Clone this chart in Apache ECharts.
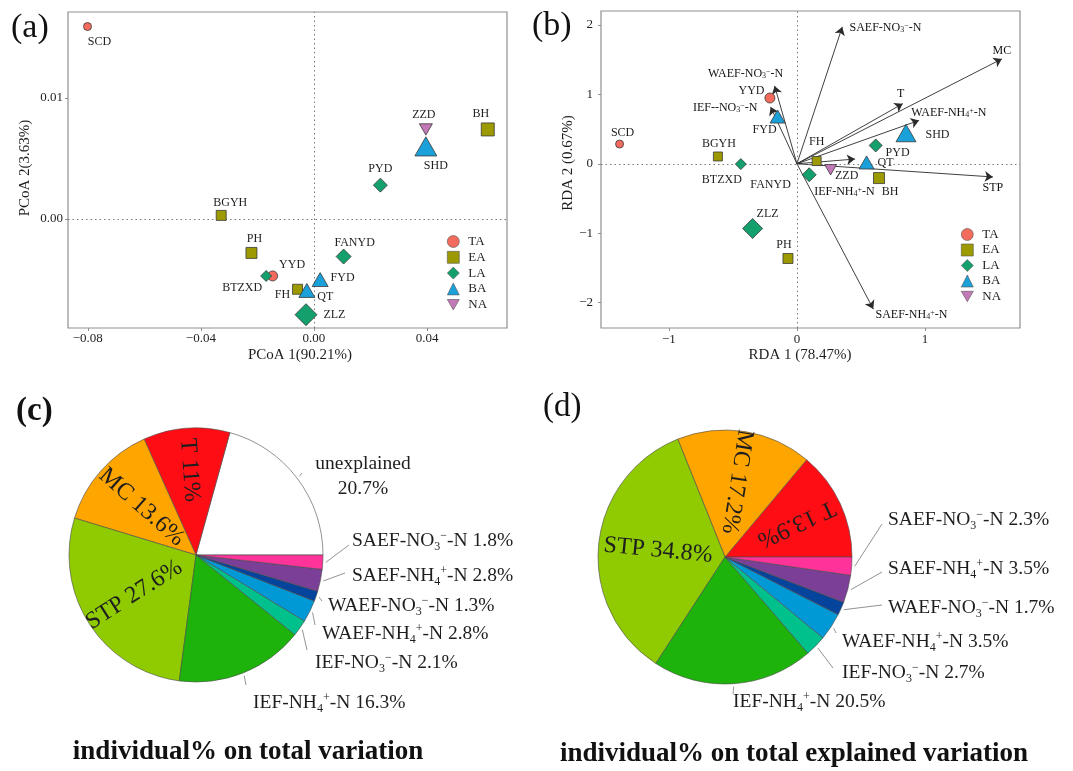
<!DOCTYPE html>
<html><head><meta charset="utf-8">
<script src="https://cdn.jsdelivr.net/npm/echarts@6/dist/echarts.min.js"></script>
<style>html,body{margin:0;padding:0;background:#fff}#c{width:1073px;height:771px}</style>
</head><body><div id="c"></div>
<script>
// ================= DATA =================
const groups = ['TA', 'EA', 'LA', 'BA', 'NA'];
const siteNames = ['SCD', 'YYD', 'BH', 'BGYH', 'PH', 'FH', 'PYD', 'FANYD', 'BTZXD', 'ZLZ', 'SHD', 'FYD', 'QT', 'ZZD'];
const siteGroup = ['TA', 'TA', 'EA', 'EA', 'EA', 'EA', 'LA', 'LA', 'LA', 'LA', 'BA', 'BA', 'BA', 'NA'];
// panel (a) PCoA scores
const pcoa1 = [-0.0801, -0.0146, 0.0615, -0.0328, -0.0221, -0.0058, 0.0235, 0.0105, -0.0169, -0.0028, 0.0396, 0.0022, -0.0025, 0.0396];
const pcoa2 = [0.0159, -0.0047, 0.0074, 0.0003, -0.0028, -0.0058, 0.0028, -0.0031, -0.0047, -0.0079, 0.0060, -0.0050, -0.0059, 0.0074];
// panel (b) RDA site scores
const rda1 = [-1.385, -0.211, 0.641, -0.617, -0.070, 0.154, 0.615, 0.096, -0.438, -0.346, 0.852, -0.151, 0.544, 0.263];
const rda2 = [0.284, 0.947, -0.206, 0.105, -1.364, 0.039, 0.264, -0.158, -0.005, -0.932, 0.442, 0.680, 0.019, -0.086];
// panel (b) environmental arrows
const envNames = ['SAEF-NO3-N', 'MC', 'WAEF-NO3-N', 'IEF--NO3-N', 'T', 'WAEF-NH4-N', 'IEF-NH4-N', 'STP', 'SAEF-NH4-N'];
const envX = [0.354, 1.60, -0.174, -0.205, 0.826, 0.953, 0.453, 1.53, 0.596];
const envY = [1.97, 1.51, 1.12, 0.817, 0.865, 0.624, 0.068, -0.19, -2.09];
// tick values
const pcoaXTicks = [-0.08, -0.04, 0, 0.04];
const pcoaYTicks = [0, 0.01];
const rdaXTicks = [-1, 0, 1];
const rdaYTicks = [-2, -1, 0, 1, 2];
// panel (c) individual % on total variation
const pieCNames = ['unexplained', 'T', 'MC', 'STP', 'IEF-NH4-N', 'IEF-NO3-N', 'WAEF-NH4-N', 'WAEF-NO3-N', 'SAEF-NH4-N', 'SAEF-NO3-N'];
const pieCValues = [20.7, 11, 13.6, 27.6, 16.3, 2.1, 2.8, 1.3, 2.8, 1.8];
// panel (d) individual % on total explained variation
const pieDNames = ['T', 'MC', 'STP', 'IEF-NH4-N', 'IEF-NO3-N', 'WAEF-NH4-N', 'WAEF-NO3-N', 'SAEF-NH4-N', 'SAEF-NO3-N'];
const pieDValues = [13.9, 17.2, 34.8, 20.5, 2.7, 3.5, 1.7, 3.5, 2.3];

// ================= STYLE / LAYOUT =================
const FONT = "'Liberation Serif','Times New Roman','DejaVu Serif',serif";
const TXT = '#1e1e1e';
const SYMBOL = { TA: 'circle', EA: 'rect', LA: 'diamond', BA: 'triangle', NA: 'path://M0,0L10,0L5,8.66Z' };
const COLOR = { TA: '#F36B5D', EA: '#9C9A00', LA: '#14A06C', BA: '#1AA1DA', NA: '#C378B7' };
const SIZE_A = { SCD: 8, YYD: 10, BH: 13, BGYH: 10, PH: 11, FH: 10, PYD: 14, FANYD: 15, BTZXD: 11, ZLZ: 22, SHD: 22, FYD: 16, QT: 16, ZZD: 13 };
const SIZE_B = { SCD: 8, YYD: 10, BH: 11, BGYH: 9, PH: 10, FH: 9, PYD: 13, FANYD: 14, BTZXD: 11, ZLZ: 20, SHD: 20, FYD: 15, QT: 15, ZZD: 12 };
const LABEL_A = {
  SCD: ['bottom', [12, 0]], BH: ['top', [-7, 2]], ZZD: ['top', [-2, 2]], SHD: ['bottom', [10, -1]],
  PYD: ['top', [0, 2]], BGYH: ['top', [9, 4]], PH: ['top', [3, 3]], FANYD: ['top', [11, 5]],
  YYD: ['right', [-4, -11]], BTZXD: ['bottom', [-24, -5]], FYD: ['right', [-3, -2]], FH: ['left', [3, 6]],
  QT: ['right', [-3, 6]], ZLZ: ['right', [1, 0]]
};
const LABEL_B = {
  SCD: ['top', [3, 4]], YYD: ['left', [5, -7]], FYD: ['bottom', [-13, -5]], BGYH: ['top', [1, 3]],
  BTZXD: ['bottom', [-19, -1]], FH: ['top', [0, -3]], ZZD: ['right', [-7, 6]], FANYD: ['left', [-6, 10]],
  QT: ['right', [-2, 0]], PYD: ['right', [-2, 7]], SHD: ['right', [4, 2]], BH: ['bottom', [11, -3]],
  ZLZ: ['top', [15, 7]], PH: ['top', [-4, 3]]
};
const ENV_LABEL = {
  'SAEF-NO3-N': ['right', [2, 1]], 'MC': ['top', [0, 3]], 'WAEF-NO3-N': ['top', [-29, -1]],
  'IEF--NO3-N': ['left', [-8, 1]], 'T': ['top', [-2, 1]], 'WAEF-NH4-N': ['right', [-13, -8]],
  'IEF-NH4-N': ['right', [-46, 33]], 'STP': ['bottom', [0, 0]], 'SAEF-NH4-N': ['right', [-3, 6]]
};
const PIE_COLOR = {
  'unexplained': '#FFFFFF', 'T': '#FF0D15', 'MC': '#FFA500', 'STP': '#8FCB00', 'IEF-NH4-N': '#1DB30A',
  'IEF-NO3-N': '#00C08C', 'WAEF-NH4-N': '#0099D6', 'WAEF-NO3-N': '#04449C', 'SAEF-NH4-N': '#7C3F98', 'SAEF-NO3-N': '#FF3399'
};
const PIE_C = { cx: 196, cy: 555, r: 127, labels: {
  'unexplained': { x: 363, y: 476, align: 'center', lx: 302, ly: 473 },
  'T': { inside: true, f: 0.67 }, 'MC': { inside: true, f: 0.57 }, 'STP': { inside: true, f: 0.58 },
  'IEF-NH4-N': { x: 253, y: 703, lx: 246, ly: 685 },
  'IEF-NO3-N': { x: 315, y: 663, lx: 307, ly: 650 },
  'WAEF-NH4-N': { x: 322, y: 634, lx: 315, ly: 625 },
  'WAEF-NO3-N': { x: 328, y: 606, lx: 322, ly: 601 },
  'SAEF-NH4-N': { x: 352, y: 576, lx: 345, ly: 573 },
  'SAEF-NO3-N': { x: 352, y: 541, lx: 349, ly: 545 }
} };
const PIE_D = { cx: 725, cy: 557, r: 127, labels: {
  'T': { inside: true, f: 0.62 }, 'MC': { inside: true, f: 0.6 }, 'STP': { inside: true, f: 0.53 },
  'IEF-NH4-N': { x: 733, y: 702, lx: 733, ly: 694 },
  'IEF-NO3-N': { x: 842, y: 673, lx: 833, ly: 668 },
  'WAEF-NH4-N': { x: 842, y: 642, lx: 836, ly: 633 },
  'WAEF-NO3-N': { x: 888, y: 608, lx: 882, ly: 605 },
  'SAEF-NH4-N': { x: 888, y: 569, lx: 882, ly: 572 },
  'SAEF-NO3-N': { x: 888, y: 520, lx: 882, ly: 524 }
} };

function chem(s) { return s.replace('NO3', 'NO{s|3}{p|\u2212}').replace('NH4', 'NH{s|4}{p|+}'); }
function richFor(fs) {
  const small = Math.round(fs * 0.62);
  return {
    s: { fontSize: small, fontFamily: FONT, color: TXT, verticalAlign: 'bottom', lineHeight: Math.round(small * 0.75) },
    p: { fontSize: small, fontFamily: FONT, color: TXT, verticalAlign: 'top', lineHeight: Math.round(small * 0.9) }
  };
}
function fmtA(v) { return (v < 0 ? '\u2212' : '') + Math.abs(v).toFixed(2); }
function fmtB(v) { return (v < 0 ? '\u2212' : '') + Math.abs(v); }

function valueAxis(grid, min, max, ticks, fmt, name, nameGap, namePad, margin) {
  return {
    gridIndex: grid, type: 'value', min: min, max: max,
    splitLine: { show: false }, axisLine: { show: false, onZero: false },
    axisTick: { show: true, inside: false, length: 3, lineStyle: { color: '#8f8f8f', width: 1 }, customValues: ticks },
    axisLabel: { customValues: ticks, formatter: fmt, fontSize: 13, color: TXT, margin: margin, fontFamily: FONT },
    name: name, nameLocation: 'middle', nameGap: nameGap,
    nameTextStyle: { fontSize: 15, color: TXT, fontFamily: FONT, padding: namePad }
  };
}

function siteSeries(panel) {
  const xs = panel === 0 ? pcoa1 : rda1, ys = panel === 0 ? pcoa2 : rda2;
  const SZ = panel === 0 ? SIZE_A : SIZE_B, LB = panel === 0 ? LABEL_A : LABEL_B;
  return groups.map((g, gi) => {
    const s = {
      type: 'scatter', name: g, xAxisIndex: panel, yAxisIndex: panel, z: 5,
      symbol: SYMBOL[g],
      itemStyle: { color: COLOR[g], borderColor: '#3a3a3a', borderWidth: 0.8, opacity: 1 },
      label: { show: true, formatter: '{b}', fontSize: 12, color: TXT, fontFamily: FONT },
      emphasis: { disabled: true },
      data: siteNames.map((n, i) => i).filter(i => siteGroup[i] === g).map(i => {
        const n = siteNames[i], sz = SZ[n];
        const tri = (g === 'BA' || g === 'NA');
        return { name: n, value: [xs[i], ys[i]], symbolSize: tri ? [sz, sz * 0.87] : sz,
                 label: { position: LB[n][0], offset: LB[n][1] } };
      })
    };
    if (gi === 0) {
      s.markLine = { silent: true, symbol: 'none', animation: false, label: { show: false },
        lineStyle: { color: '#7a7a7a', type: [1.5, 3], width: 1 },
        emphasis: { disabled: true },
        data: [{ xAxis: 0 }, { yAxis: 0 }] };
    }
    return s;
  });
}

function pieSeries(names, values, cfg) {
  const total = values.reduce((a, b) => a + b, 0);
  let cum = 0;
  const mids = values.map(v => { const m = (cum + v / 2) / total * 360; cum += v; return m; });
  return {
    type: 'pie', center: [cfg.cx, cfg.cy], radius: cfg.r, startAngle: 0, clockwise: false,
    avoidLabelOverlap: false, silent: true, animation: false,
    itemStyle: { borderColor: '#4a4a4a', borderWidth: 0.6 },
    label: { show: true, position: 'outside', fontSize: 19.5, lineHeight: 23, fontFamily: FONT, color: TXT, rich: richFor(19.5) },
    labelLine: { show: true, lineStyle: { color: '#777', width: 0.8 } },
    emphasis: { disabled: true },
    data: names.map((n, i) => {
      const L = cfg.labels[n];
      const item = { name: n, value: values[i], itemStyle: { color: PIE_COLOR[n] } };
      if (L.inside) {
        item.label = { position: 'inside', rotate: mids[i] - 180, fontSize: 24, lineHeight: 27,
                       formatter: n + ' ' + values[i] + '%' };
        item.labelLine = { show: false };
      } else if (n === 'unexplained') {
        item.label = { formatter: 'unexplained\n' + values[i] + '%', lineHeight: 25, align: 'center' };
      } else {
        item.label = { formatter: chem(n) + ' ' + values[i] + '%' };
      }
      return item;
    }),
    labelLayout: function (p) {
      const i = p.dataIndex, L = cfg.labels[names[i]];
      const a = mids[i] * Math.PI / 180;
      if (L.inside) {
        return { x: cfg.cx + L.f * cfg.r * Math.cos(a), y: cfg.cy - L.f * cfg.r * Math.sin(a),
                 align: 'center', verticalAlign: 'middle' };
      }
      const sx = cfg.cx + (cfg.r + 3) * Math.cos(a), sy = cfg.cy - (cfg.r + 3) * Math.sin(a);
      return { x: L.x, y: L.y, align: L.align || 'left', verticalAlign: 'middle',
               labelLinePoints: [[sx, sy], [(sx + L.lx) / 2, (sy + L.ly) / 2], [L.lx, L.ly]] };
    }
  };
}

function gText(text, x, y, size, weight, align) {
  return { type: 'text', x: x, y: y, silent: true,
    style: { text: text, font: (weight || 'normal') + ' ' + size + 'px ' + FONT, fill: '#111',
             align: align || 'left', textAlign: align || 'left', verticalAlign: 'top', textVerticalAlign: 'top' } };
}

const legendBase = {
  data: groups, orient: 'vertical', padding: 0, itemWidth: 12, itemHeight: 12, itemGap: 2.8,
  selectedMode: false, itemStyle: { borderColor: '#555', borderWidth: 0.6 },
  textStyle: { fontSize: 13, color: TXT, fontFamily: FONT, padding: [0, 0, 0, 4] }
};

const option = {
  animation: false,
  backgroundColor: '#fff',
  textStyle: { fontFamily: FONT },
  grid: [
    { left: 68, top: 12, width: 439, height: 316, show: true, borderColor: '#8f8f8f', borderWidth: 1.2, backgroundColor: 'transparent' },
    { left: 601, top: 11, width: 419, height: 317, show: true, borderColor: '#8f8f8f', borderWidth: 1.2, backgroundColor: 'transparent' }
  ],
  xAxis: [
    valueAxis(0, -0.087, 0.0683, pcoaXTicks, fmtA, 'PCoA 1(90.21%)', 20, [0, 0, 0, 25], 4),
    valueAxis(1, -1.53, 1.742, rdaXTicks, fmtB, 'RDA 1 (78.47%)', 20, [0, 21, 0, 0], 5)
  ],
  yAxis: [
    valueAxis(0, -0.009, 0.0171, pcoaYTicks, fmtA, 'PCoA 2(3.63%)', 35, [0, 0, 0, 4], 5),
    valueAxis(1, -2.365, 2.2, rdaYTicks, fmtB, 'RDA 2 (0.67%)', 19, [0, 0, 0, 13], 8)
  ],
  legend: [
    Object.assign({}, legendBase, { left: 447, top: 235 }),
    Object.assign({}, legendBase, { left: 961, top: 228, itemGap: 2.5 })
  ],
  graphic: [
    gText('(a)', 11, 11, 34),
    gText('(b)', 532, 9, 34),
    gText('(c)', 16, 395, 33, 'bold'),
    gText('(d)', 543, 391, 33),
    gText('individual% on total variation', 248, 739, 27, 'bold', 'center'),
    gText('individual% on total explained variation', 794, 741, 27, 'bold', 'center')
  ],
  series: [
    {
      type: 'lines', coordinateSystem: 'cartesian2d', xAxisIndex: 1, yAxisIndex: 1, z: 2, silent: true,
      symbol: ['none', 'arrow'], symbolSize: 8,
      lineStyle: { color: '#2a2a2a', width: 0.9, opacity: 1 },
      data: envX.map((x, i) => ({ coords: [[0, 0], [x, envY[i]]] }))
    },
    {
      type: 'scatter', name: 'env', xAxisIndex: 1, yAxisIndex: 1, z: 3, silent: true,
      symbol: 'circle', symbolSize: 0.5, itemStyle: { color: '#2a2a2a', opacity: 1 },
      label: { show: true, fontSize: 12, color: '#111', fontFamily: FONT, rich: richFor(12.5),
               formatter: p => chem(p.name) },
      emphasis: { disabled: true },
      data: envNames.map((n, i) => ({ name: n, value: [envX[i], envY[i]],
        label: { position: ENV_LABEL[n][0], offset: ENV_LABEL[n][1] } }))
    }
  ].concat(siteSeries(0), siteSeries(1), [pieSeries(pieCNames, pieCValues, PIE_C), pieSeries(pieDNames, pieDValues, PIE_D)])
};

const chart = echarts.init(document.getElementById('c'));
chart.setOption(option);
</script>
</body></html>
